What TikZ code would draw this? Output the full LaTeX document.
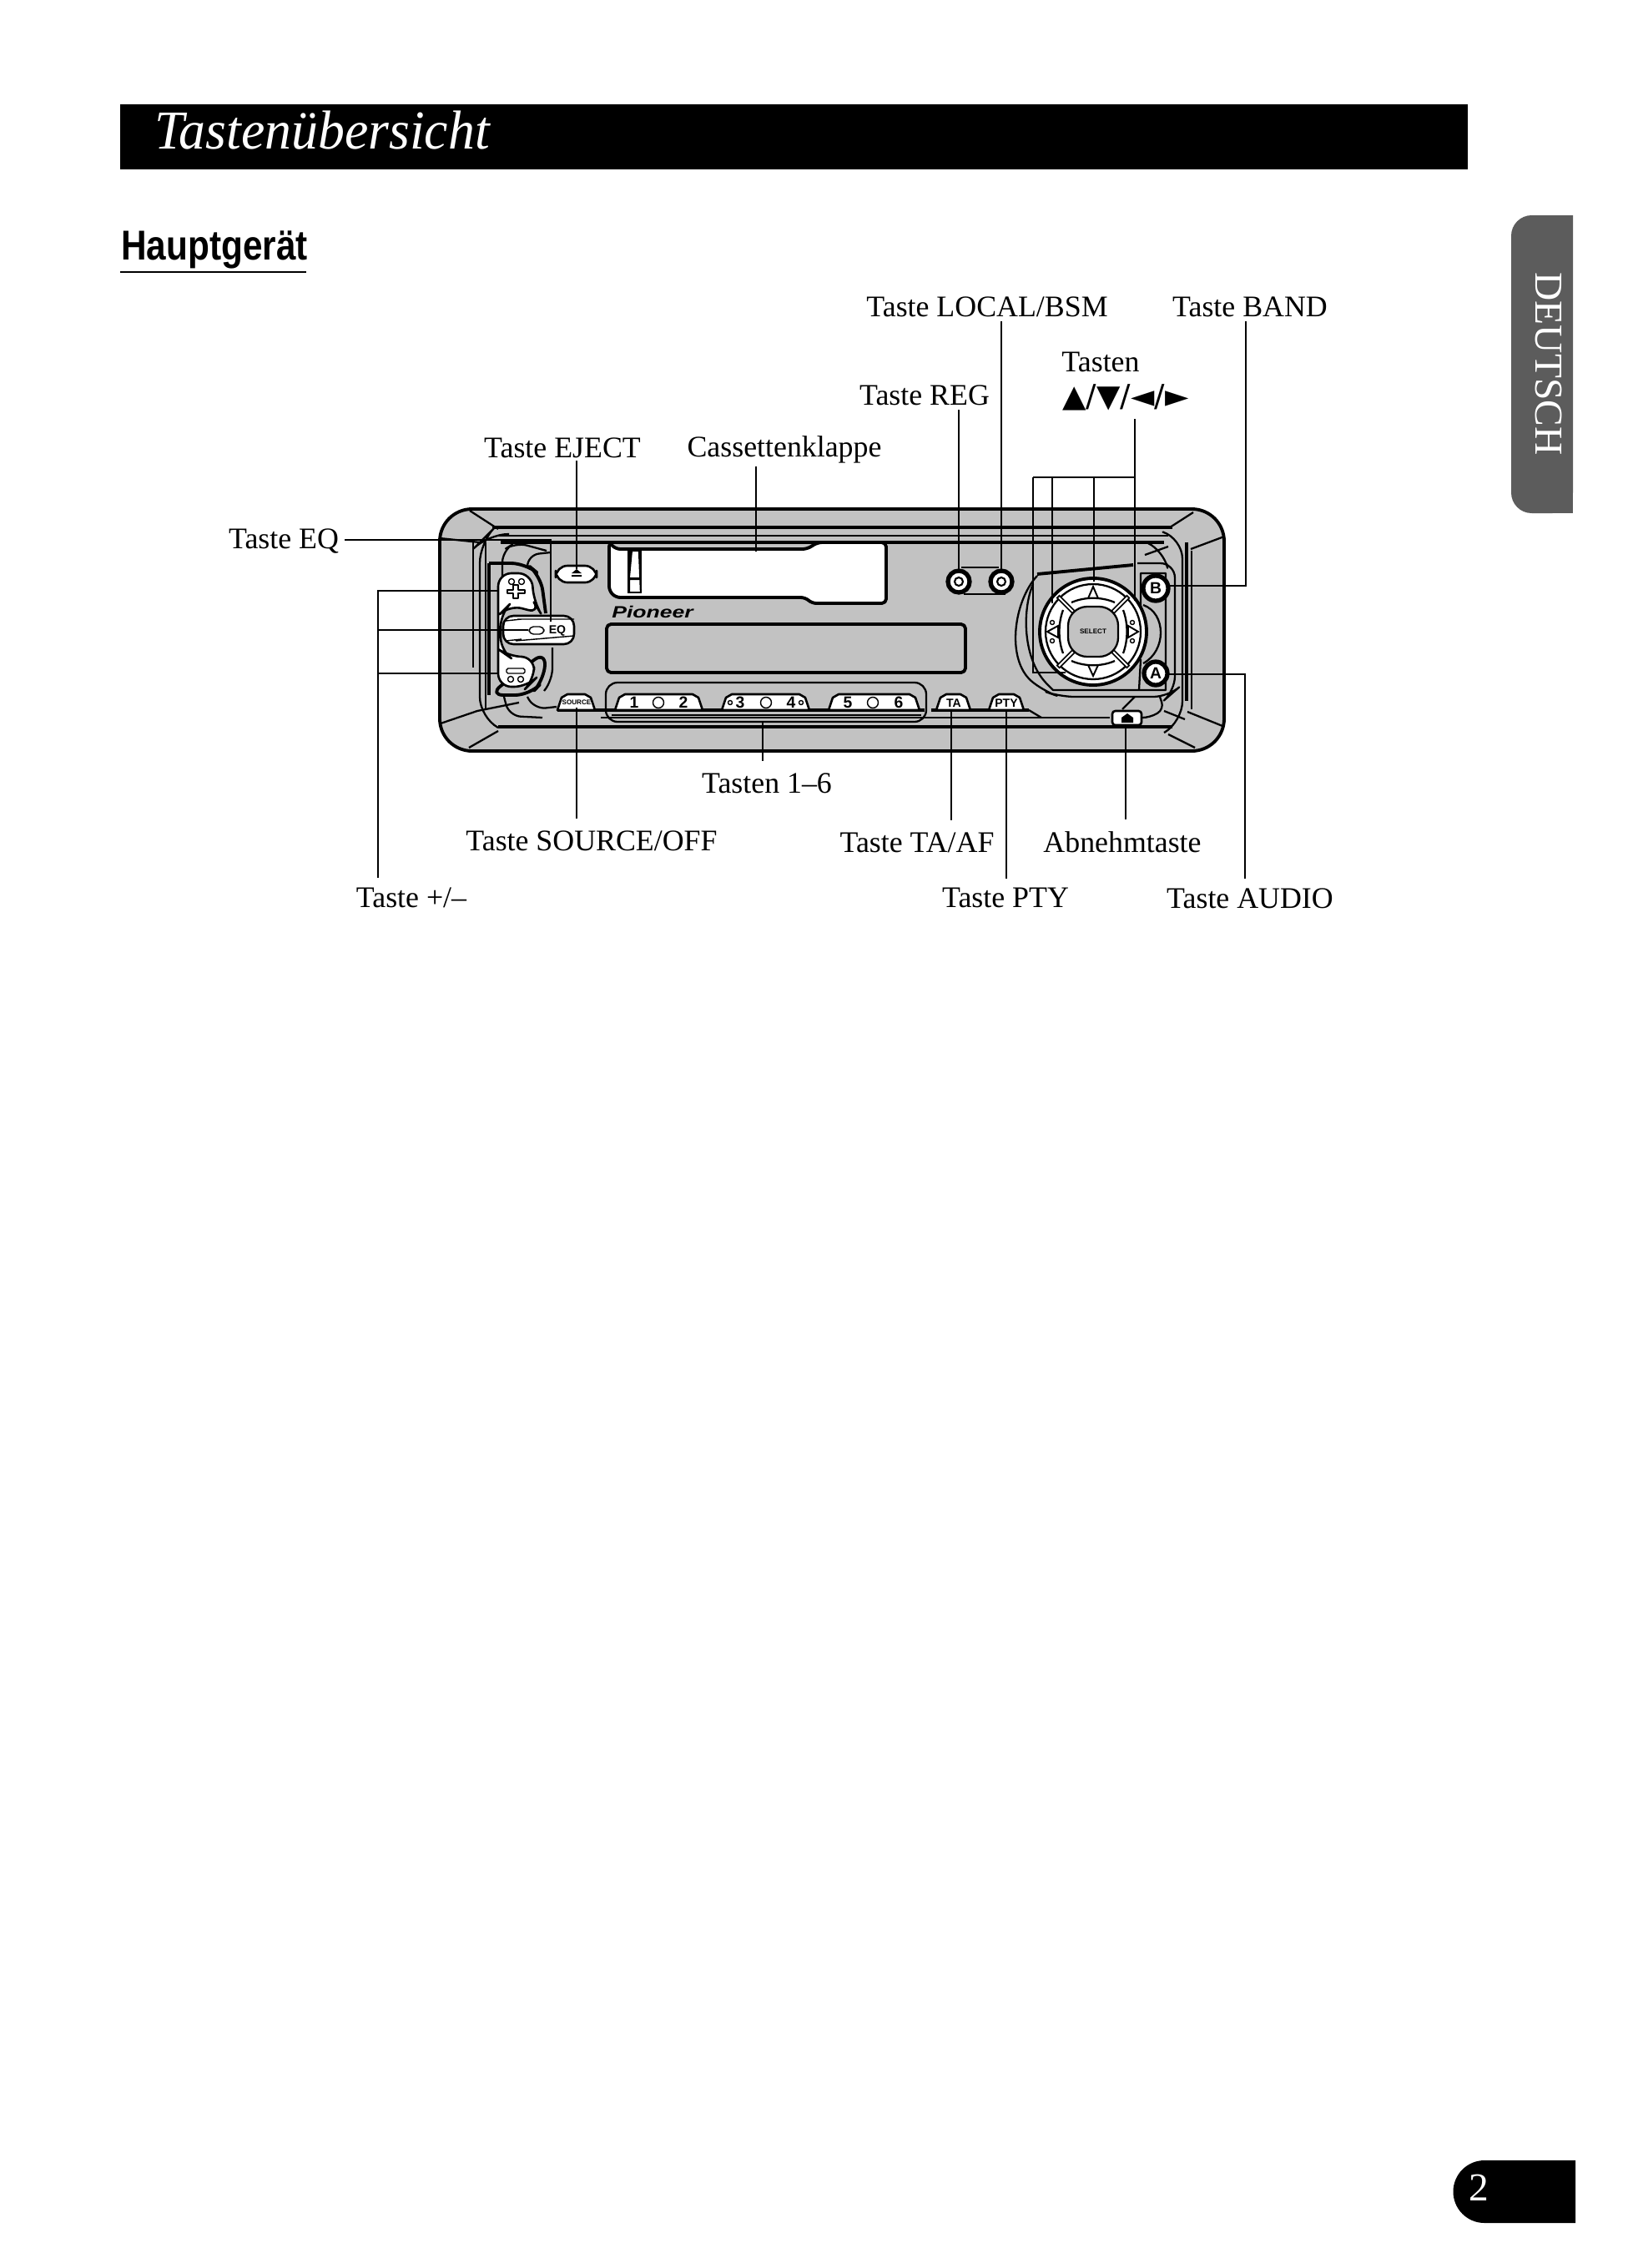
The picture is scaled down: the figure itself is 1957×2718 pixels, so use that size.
\documentclass[tikz,border=0pt]{standalone}
\usepackage{fontspec}
\setmainfont{Liberation Serif}
\newfontfamily\helv{Liberation Sans}
\newfontfamily\symb{DejaVu Sans}
\newcommand{\lbfont}{\fontsize{20.4}{24}\selectfont}
\definecolor{stip}{gray}{0.76}
\definecolor{tabgray}{gray}{0.36}
\tikzset{
  lab/.style={inner sep=0pt,anchor=base,font=\lbfont,text=black},
  conn/.style={line width=1.6pt,draw=black},
  dev/.style={line width=1.3pt,draw=black,line join=round},
  devthin/.style={line width=.8pt,draw=black,line join=round},
  devheavy/.style={line width=2.2pt,draw=black,line join=round},
  btn/.style={line width=1.5pt,draw=black,fill=white,line join=round},
  tiny/.style={inner sep=0pt,font=\helv\bfseries\fontsize{4.6}{5}\selectfont},
  presetnum/.style={inner sep=0pt,font=\helv\bfseries\fontsize{11}{11}\selectfont}
}
\begin{document}
\begin{tikzpicture}[x=0.02cm,y=-0.02cm]
\useasboundingbox (0,0) rectangle (1957,2718);
\fill[white] (0,0) rectangle (1957,2718);

% header bar and heading
\fill[black] (144,125) rectangle (1759,203);
\node[inner sep=0pt,anchor=base west,text=white,font=\fontsize{37.4}{42}\selectfont\itshape] (title) at (185,178) {\scalebox{.97}[1]{Tastenübersicht}};
\node[inner sep=0pt,anchor=base west,font=\helv\bfseries\fontsize{28.5}{32}\selectfont] (head) at (145,311) {\scalebox{.845}[1]{Hauptgerät}};
\draw[line width=1.5pt] (144,326) -- (367,326);

% side tab
\fill[tabgray,rounded corners=14pt] (1885,258) -- (1811,258) -- (1811,615) -- (1885,615) [sharp corners] -- cycle;
\fill[tabgray] (1850,258) rectangle (1885,615);
\node[inner sep=0pt,rotate=-90,text=white,font=\fontsize{27}{30}\selectfont] (tab) at (1856,436) {DEUTSCH};

% page number
\fill[black] (1779,2589) -- (1888,2589) -- (1888,2664) -- (1779,2664) arc (90:270:37.5) -- cycle;
\node[inner sep=0pt,text=white,font=\fontsize{27}{30}\selectfont] (pg) at (1772,2622) {2};

% ===== device body =====
\draw[devheavy,fill=stip,rounded corners=22pt] (527,610) rectangle (1467,900);
% corner diagonals
\draw[dev] (563,612) -- (597,634) (527,645) -- (575,650);
\draw[dev] (528,867) -- (572,852) -- (622,842) (562,896) -- (597,876);
\draw[dev] (1430,614) -- (1402,632) (1467,643) -- (1427,658);
\draw[dev] (1400,880) -- (1432,896) (1423,853) -- (1465,870);
% long bands
\draw[devheavy] (590,632) -- (1405,632);
\draw[dev] (597,642) -- (1400,642);
\draw[devheavy] (600,650) -- (1395,650);
\draw[devheavy] (597,871) -- (1405,871);
\draw[dev] (720,860) -- (1330,860);
% inner frame
\draw[dev,rounded corners=14pt] (610,640) -- (585,640) -- (575,650) -- (575,860) -- (597,872);
\draw[dev] (567,650) -- (567,800);
\draw[dev] (582,650) -- (582,850);
\draw[dev,rounded corners=14pt] (1395,638) -- (1417,645) -- (1417,865) -- (1395,878);
\draw[devheavy] (1422,650) -- (1422,840);
\draw[dev] (1428,660) -- (1428,850);

% left control cluster
\draw[dev,rounded corners=8pt] (602,712) -- (602,660) -- (618,650) -- (655,660);
\draw[dev,rounded corners=8pt] (632,680) -- (632,665) -- (660,662);
\draw[dev,rounded corners=8pt] (662,776) -- (662,815) -- (652,828);
\draw[dev,rounded corners=8pt] (632,835) -- (640,850) -- (667,847);
\draw[dev,rounded corners=8pt] (604,835) -- (610,858) -- (650,860);
\draw[devheavy,rounded corners=10pt] (586,675) -- (630,675) -- (648,690) -- (654,735);
\draw[devheavy,rounded corners=10pt] (654,780) -- (652,815) -- (635,833) -- (586,833) -- cycle;
\draw[devheavy,rounded corners=4pt] (586,675) -- (586,833);
\draw[btn,rounded corners=9pt] (597,687) -- (637,687) -- (640,722) -- (648,735) -- (610,725) -- (600,735) -- (600,780) -- (610,787) -- (640,787) -- (640,815) -- (632,823) -- (597,823) -- cycle;
\draw[btn,rounded corners=7pt] (603,738) rectangle (688,772);
\draw[devthin] (606,744) -- (625,742) (606,768) -- (625,766) (620,742) -- (688,742) (618,768) -- (688,762);
\draw[devthin,rounded corners=3pt] (634,751) rectangle (652,760);
\node[tiny,font=\helv\bfseries\fontsize{8}{8}\selectfont] (eqt) at (668,756) {EQ};
\draw[devthin] (613,697) circle (3.5) (625,697) circle (3.5) (612,814) circle (3.5) (624,814) circle (3.5);
\draw[devthin,fill=white] (608,707) -- (615,707) -- (615,701) -- (621,701) -- (621,707) -- (629,707) -- (629,711) -- (621,711) -- (621,717) -- (615,717) -- (615,711) -- (608,711) -- cycle;
\draw[devthin,fill=white,rounded corners=1pt] (607,801) rectangle (629,807);

% eject button
\draw[btn,rounded corners=8pt] (666,678) rectangle (715,698);
\fill[black] (685,687) -- (691,682) -- (697,687) -- cycle (685,689) rectangle (697,691);

% cassette door
\draw[devheavy,fill=white,rounded corners=3pt] (730,650) -- (730,708) -- (738,716) -- (965,716) -- (973,723) -- (1062,723) -- (1062,650) -- (980,650) -- (967,658) -- (738,658) -- cycle;
\draw[line width=1.3pt,draw=black,fill=white] (753,660) -- (768,660) -- (768,710) -- (753,710) -- cycle;
\fill[black] (753,660) -- (758,660) -- (755,692) -- (768,692) -- (768,695) -- (755,695) -- (755,710) -- (752,710) -- cycle;
\draw[dev] (766,660) -- (768,710);

% Pioneer logo, display
\node[inner sep=0pt,font=\helv\bfseries\itshape\fontsize{14}{14}\selectfont] (logo) at (782,733) {\scalebox{1.08}[.8]{Pioneer}};
\draw[devheavy,rounded corners=3pt] (727,748) rectangle (1157,806);

% REG and LOCAL buttons
\draw[dev] (1152,680) -- (1197,680) (1155,712) -- (1205,712);
\foreach \c/\n in {1149/rega,1200/loca}{
  \draw[line width=3pt,draw=black,fill=white] (\c,697) circle (13);
  \draw[line width=1.2pt] (\c,697) circle (5);
}

% preset group
\draw[dev,rounded corners=8pt] (726,818) rectangle (1110,865);
\draw[dev] (733,857) -- (1104,857);
\draw[line width=2pt] (668,851) -- (1108,851);
\draw[line width=2pt] (1116,851) -- (1233,851);
\foreach \xa/\xb in {737/842,865/970,993/1102,668/713,1122/1163,1185/1227}{
  \draw[btn] (\xa,851) -- (\xa+5,836) -- (\xa+12,832) -- (\xb-12,832) -- (\xb-5,836) -- (\xb,851) -- cycle;
}
\node[presetnum] (n1) at (760,842) {1};
\draw[devthin] (789,842) circle (6.5);
\node[presetnum] (n2) at (819,842) {2};
\draw[devthin] (875,842) circle (2.5);
\node[presetnum] (n3) at (887,842) {3};
\draw[devthin] (918,842) circle (6.5);
\node[presetnum] (n4) at (948,842) {4};
\draw[devthin] (960,842) circle (2.5);
\node[presetnum] (n5) at (1016,842) {5};
\draw[devthin] (1046,842) circle (6.5);
\node[presetnum] (n6) at (1077,842) {6};
\node[tiny] (src) at (691,842) {SOURCE};
\node[presetnum,font=\helv\bfseries\fontsize{8}{8}\selectfont] (ta) at (1143,843) {TA};
\node[presetnum,font=\helv\bfseries\fontsize{8}{8}\selectfont] (pty) at (1206,843) {PTY};
\draw[dev] (1233,851) -- (1248,860);

% right cluster
\draw[dev,rounded corners=12pt] (1378,652) -- (1395,660) -- (1398,675);
\draw[dev] (1372,665) -- (1400,655);
\draw[dev,rounded corners=10pt] (1243,690) .. controls (1215,720) and (1205,790) .. (1250,828) -- (1270,835) -- (1400,835) -- (1408,828) -- (1408,675) -- (1363,675);
\draw[devheavy] (1243,688) -- (1358,677);
\draw[dev] (1238,700) .. controls (1225,730) and (1225,790) .. (1255,820) -- (1262,827) -- (1397,827) -- (1397,687) -- (1367,687) -- (1367,727);
\draw[dev] (1367,790) -- (1365,827);
\draw[dev] (1370,725) .. controls (1398,735) and (1398,780) .. (1370,795);
\draw[dev,rounded corners=5pt] (1390,835) -- (1395,850) -- (1378,860) -- (1368,860);
\draw[dev] (1360,835) -- (1345,850);
\draw[dev] (1395,852) -- (1420,862);

% d-pad
\begin{scope}[shift={(1310,757)}]
  \fill[white] (0,0) circle (64);
  \draw[line width=2.2pt] (0,0) circle (64);
  \draw[dev] (0,0) circle (57);
  \foreach \a in {45,135,225,315}{
    \draw[line width=3.2pt] (\a:33) -- (\a:60);
    \draw[line width=1.2pt,white] (\a:34) -- (\a:58);
  }
  \draw[dev,fill=stip,rounded corners=13pt] (-30,-30) rectangle (30,30);
  \draw[dev] (-26,-35) .. controls (-10,-42) and (10,-42) .. (26,-35);
  \draw[dev] (-26,35) .. controls (-10,42) and (10,42) .. (26,35);
  \draw[dev] (-36,-26) .. controls (-42,-10) and (-42,10) .. (-36,26);
  \draw[dev] (36,-26) .. controls (42,-10) and (42,10) .. (36,26);
  \draw[line width=1.1pt] (-6,-40) -- (0,-54) -- (6,-40) -- cycle;
  \draw[line width=1.1pt] (-6,40) -- (0,53) -- (6,40) -- cycle;
  \draw[line width=1.1pt] (-42,-7) -- (-55,0) -- (-42,7) -- cycle;
  \draw[line width=1.1pt] (42,-7) -- (54,0) -- (42,7) -- cycle;
  \draw[devthin] (-49,-11) circle (2.5) (-49,11) circle (2.5) (47,-11) circle (2.5) (47,11) circle (2.5);
  \node[tiny] (sel) at (0,0) {SELECT};
\end{scope}

% round buttons A, B and detach button
\draw[line width=3pt,fill=white] (1385,705) circle (15);
\node[presetnum] (bb) at (1385,705) {B};
\draw[line width=3pt,fill=white] (1385,807) circle (14);
\node[presetnum] (aa) at (1385,807) {A};
\draw[btn,rounded corners=2pt] (1333,852) rectangle (1368,869);
\fill[black] (1344,866) -- (1344,860) -- (1351,855) -- (1358,860) -- (1358,866) -- cycle;

% ===== labels =====
\node[lab] (lLocal) at (1183,379) {Taste LOCAL/BSM};
\node[lab] (lBand) at (1498,379) {Taste BAND};
\node[lab] (lTasten) at (1319,445) {Tasten};
\node[lab,font=\symb\fontsize{21}{24}\selectfont] (lArrows) at (1349,487) {▲/▼/◄/►};
\node[lab] (lReg) at (1108,485) {Taste REG};
\node[lab] (lEject) at (674,548) {Taste EJECT};
\node[lab] (lCass) at (940,547) {Cassettenklappe};
\node[lab] (lEq) at (340,657) {Taste EQ};
\node[lab] (lPre) at (919,950) {Tasten 1–6};
\node[lab] (lSource) at (709,1019) {Taste SOURCE/OFF};
\node[lab] (lTa) at (1099,1021) {Taste TA/AF};
\node[lab] (lAbn) at (1345,1021) {Abnehmtaste};
\node[lab] (lPm) at (493,1087) {Taste +/–};
\node[lab] (lPty) at (1205,1087) {Taste PTY};
\node[lab] (lAudio) at (1498,1088) {Taste AUDIO};

% ===== connector end points =====
\coordinate (tEqA) at (660,647);   \coordinate (tEq) at (660,745);
\coordinate (tEject) at (691,682);
\coordinate (tCass) at (906,661);
\coordinate (busPm) at (453,755);
\coordinate (tPlus) at (598,708);  \coordinate (tMid) at (633,755); \coordinate (tMinus) at (598,807);
\coordinate (tSource) at (691,848);
\coordinate (tPre) at (914,865);
\coordinate (tReg) at (1149,687);
\coordinate (tLocal) at (1200,687);
\coordinate (busA) at (1238,572);  \coordinate (busB) at (1360,572);
\coordinate (jB) at (1261,572);    \coordinate (jC) at (1311,572);
\coordinate (aL) at (1238,806);    \coordinate (tDown) at (1277,806);
\coordinate (tLeft) at (1261,723); \coordinate (tUp) at (1311,697); \coordinate (tRight) at (1360,720);
\coordinate (cBand) at (1493,702); \coordinate (tBand) at (1398,702);
\coordinate (cAudio) at (1492,808); \coordinate (tAudio) at (1397,808);
\coordinate (tTa) at (1140,852);
\coordinate (tPty) at (1206,852);
\coordinate (tAbn) at (1349,870);

% ===== connectors =====
\draw[conn,shorten <=4pt] (lEq.east |- tEqA) -- (tEqA) -- (tEq);
\draw[conn,shorten <=2pt] (lEject.south -| tEject) -- (tEject);
\draw[conn,shorten <=2pt] (lCass.south -| tCass) -- (tCass);
\draw[conn,shorten <=6pt] (lPm.north -| busPm) -- (busPm |- tPlus) -- (tPlus);
\draw[conn] (busPm) -- (tMid);
\draw[conn] (busPm |- tMinus) -- (tMinus);
\draw[conn,shorten <=8pt] (lSource.north -| tSource) -- (tSource);
\draw[conn,shorten <=8pt] (lPre.north -| tPre) -- (tPre);
\draw[conn,shorten <=3pt] (lReg.south -| tReg) -- (tReg);
\draw[conn,shorten <=3pt] (lLocal.south -| tLocal) -- (tLocal);
\draw[conn] (busA) -- (busB);
\draw[conn,shorten <=6pt] (lArrows.south -| busB) -- (tRight);
\draw[conn] (busA) -- (aL) -- (tDown);
\draw[conn] (jB) -- (tLeft);
\draw[conn] (jC) -- (tUp);
\draw[conn,shorten <=3pt] (lBand.south -| cBand) -- (cBand) -- (tBand);
\draw[conn,shorten <=6pt] (lAudio.north -| cAudio) -- (cAudio) -- (tAudio);
\draw[conn,shorten <=8pt] (lTa.north -| tTa) -- (tTa);
\draw[conn,shorten <=6pt] (lPty.north -| tPty) -- (tPty);
\draw[conn,shorten <=8pt] (lAbn.north -| tAbn) -- (tAbn);
\end{tikzpicture}
\end{document}
